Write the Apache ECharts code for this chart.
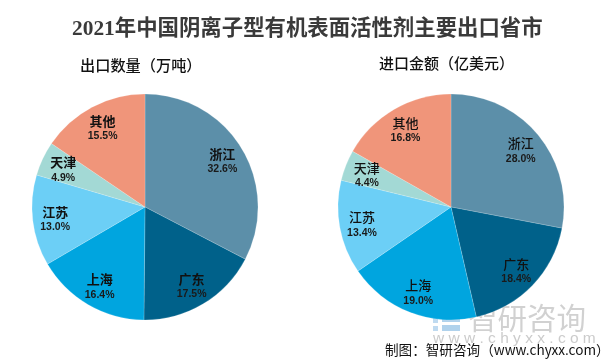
<!DOCTYPE html>
<html><head><meta charset="utf-8">
<style>html,body{margin:0;padding:0;background:#fff}#c{width:601px;height:361px}</style>
<script src="https://cdn.jsdelivr.net/npm/echarts@6/dist/echarts.min.js"></script>
</head><body><div id="c"></div>
<script>
const categories = ['浙江','广东','上海','江苏','天津','其他'];
const exportVolume = [32.6,17.5,16.4,13.0,4.9,15.5];
const importValue = [28.0,18.4,19.0,13.4,4.4,16.8];
const colors = ['#5C8FA9','#00618A','#00A5DF','#6CCFF6','#A3D9D5','#F0957A'];
const titleText = '2021年中国阴离子型有机表面活性剂主要出口省市';
const subLeft = '出口数量（万吨）';
const subRight = '进口金额（亿美元）';
const source = '制图：智研咨询（www.chyxx.com）';
const FONT = '"Noto Sans CJK SC","Liberation Sans",sans-serif';

function pie(vals, cx, nameWeight){
  const total = vals.reduce((a,b)=>a+b,0);
  return {
    type:'pie', center:[cx,207], radius:[0,113], startAngle:90, clockwise:true,
    animation:false, silent:true,
    itemStyle:{borderColor:'rgba(255,255,255,0.35)',borderWidth:0.5},
    data:categories.map((n,i)=>({name:n,value:vals[i],itemStyle:{color:colors[i]}})),
    label:{show:true,position:'inside',
      formatter:p=>'{n|'+p.name+'}\n{v|'+p.value.toFixed(1)+'%}',
      rich:{
        n:{fontFamily:FONT,fontSize:13,fontWeight:nameWeight,color:'#111',lineHeight:16,align:'center'},
        v:{fontFamily:'"Liberation Sans",sans-serif',fontSize:10.5,fontWeight:'bold',color:'#1a1a1a',lineHeight:15,align:'center'}
      }},
    labelLine:{show:false},
    labelLayout:function(p){
      let acc=0; for(let i=0;i<p.dataIndex;i++) acc+=vals[i];
      const a=(acc+vals[p.dataIndex]/2)/total*2*Math.PI;
      const extra=31;
      return {dx:Math.sin(a)*extra,dy:-Math.cos(a)*extra+1.5};
    }
  };
}
const chart = echarts.init(document.getElementById('c'),null,{renderer:'canvas'});
chart.setOption({
  backgroundColor:'#fff',
  animation:false,
  series:[pie(exportVolume,145,'bold'),pie(importValue,451,'500')],
  graphic:[
    {type:'text',left:72,top:19,style:{text:titleText,font:'bold 21.4px "Liberation Serif","Noto Sans CJK SC",serif',fill:'#3a3a3a'}},
    {type:'text',left:80,top:58,style:{text:subLeft,font:'500 15.2px '+FONT,fill:'#111'}},
    {type:'text',left:379,top:56,style:{text:subRight,font:'500 15px '+FONT,fill:'#111'}},
    // watermark logo
    {type:'group',left:433,top:307,silent:true,children:[
      {type:'rect',shape:{x:0,y:0,width:12,height:7},style:{fill:'rgba(170,205,235,0.75)'}},
      {type:'rect',shape:{x:0,y:11,width:5,height:5},style:{fill:'rgba(170,205,235,0.75)'}},
      {type:'rect',shape:{x:0,y:19,width:5,height:5},style:{fill:'rgba(170,205,235,0.75)'}},
      {type:'rect',shape:{x:9,y:9,width:18,height:6},style:{fill:'rgba(150,195,230,0.75)'}},
      {type:'rect',shape:{x:9,y:18,width:18,height:6},style:{fill:'rgba(150,195,230,0.75)'}},
      {type:'rect',shape:{x:16,y:0,width:11,height:7},style:{fill:'rgba(150,195,230,0.75)'}}
    ]},
    {type:'text',left:468,top:303,silent:true,style:{text:'智研咨询',font:'29.5px '+FONT,fill:'rgba(190,190,190,0.7)'}},
    {type:'text',left:433,top:331,silent:true,style:{text:'w w w . c h y x x . c o m',font:'15.5px "Liberation Sans",sans-serif',fill:'rgba(190,190,190,0.8)'}},
    {type:'text',left:385,top:343,style:{text:source,font:'13.6px '+FONT,fill:'#111'}}
  ]
});
</script></body></html>
